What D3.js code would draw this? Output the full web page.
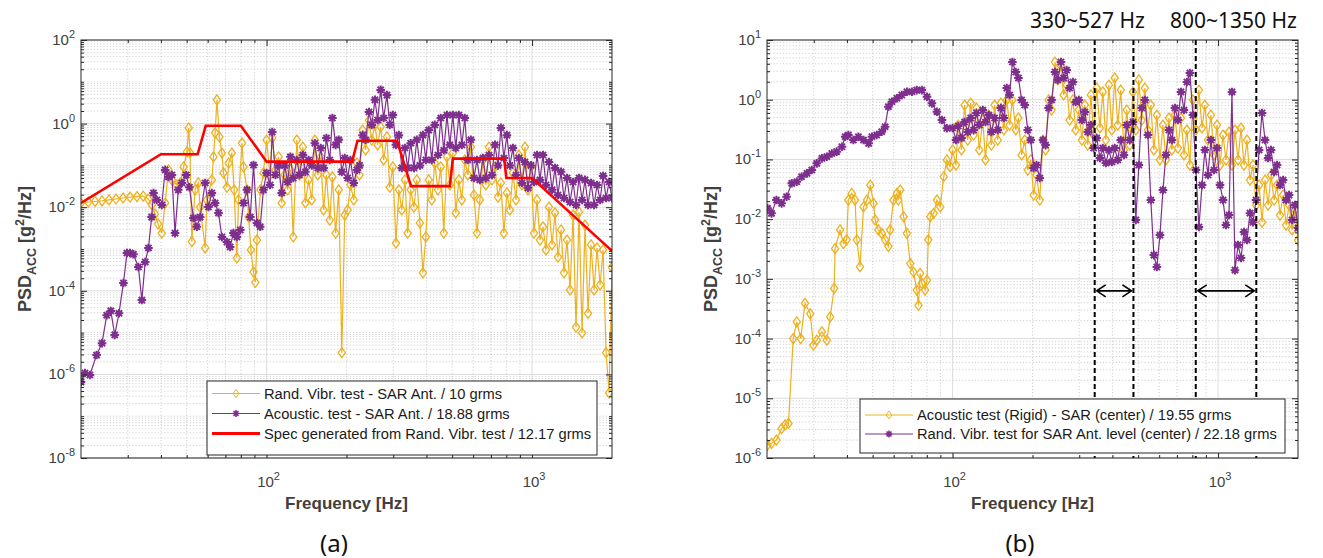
<!DOCTYPE html>
<html>
<head>
<meta charset="utf-8">
<script src="https://cdn.jsdelivr.net/npm/d3@7"></script>
<style>
  body { margin: 0; background: #fff; }
  svg text { font-family: "Liberation Sans", Arial, Helvetica, sans-serif; }
</style>
</head>
<body>
<svg id="chart" width="1323" height="558"></svg>
<script>
// Two PSD comparisons (log-log).
// Below ~100 Hz every curve is stored as [Hz, g^2/Hz] pairs; above 100 Hz the
// curves are stored as values on the shared frequency bins in freqGrid.

const freqGrid = [
  100,103,105,108,111,114,117,120,123,126,
  130,133,137,140,144,148,152,156,160,164,
  168,173,177,182,187,192,197,202,207,213,
  219,224,230,236,243,249,256,262,269,276,
  284,291,299,307,315,323,332,340,349,359,
  368,378,388,398,408,419,430,442,453,465,
  478,490,503,516,530,544,558,573,588,604,
  620,636,653,670,688,706,725,744,763,783,
  804,825,847,870,892,916,940,965,991,1017,
  1044,1071,1099,1128,1158,1189,1220,1252,1285,1319,
  1354,1390,1427,1464,1503,1543,1583,1625,1668,1712,
  1757,1804,1851,1900,1950,2000];

// ---- (a) ----
const randVibrLowA = [
  [20,0.0126],[21.3,0.0133],[22.6,0.0137],[24.0,0.0141],[25.5,0.0149],[27.1,0.0157],
  [28.8,0.0166],[30.6,0.0175],[32.5,0.018],[34.3,0.0185],[35.8,0.0157],[37.0,0.0113],
  [38.0,6.9e-3],[39.0,4.0e-3],[40.3,2.4e-3],[41.5,0.0126],[42.7,0.078],[44.0,0.045],
  [45.9,0.034],[47.3,0.038],[48.7,0.092],[50.1,0.21],[50.9,0.79],[51.5,0.198],
  [52.3,1.5e-3],[53.8,0.026],[55.3,0.038],[56.2,0.0101],[58.7,1.06e-3],[59.6,0.0149],
  [62.2,0.045],[63.1,0.159],[64.0,0.6],[65.0,3.7],[66.4,0.48],[67.9,0.198],
  [68.8,0.066],[70.9,0.030],[72.0,0.114],[74.0,0.198],[75.5,0.026],[77.3,6.1e-4],
  [78.4,0.0149],[80.8,0.343],[81.9,0.092],[84.4,0.026],[85.6,5.8e-3],[87.3,9.5e-4],
  [89.3,2.8e-4],[90.7,1.6e-4],[92.0,1.64e-3],[94.8,0.026],[97.3,0.066]];
const randVibrHighA = [
  0.405,0.059,0.453,0.078,0.159,0.0126,0.059,0.026,0.078,1.94e-3,
  0.405,0.059,0.275,0.0126,0.045,0.0149,0.405,0.059,0.159,8.6e-3,
  0.059,4.9e-3,0.053,2.4e-3,0.026,3.3e-6,6.5e-3,8.6e-3,0.034,0.0149,
  0.114,0.059,0.70,0.234,1.2,0.405,0.93,0.308,0.83,0.135,
  0.48,0.030,0.092,1.39e-3,0.026,8.6e-3,0.045,2.4e-3,0.026,0.0101,
  0.045,4.2e-3,2.7e-4,1.94e-3,0.045,0.0149,0.114,0.026,0.092,2.4e-3,
  0.159,0.034,0.198,7.3e-3,0.045,0.0149,0.135,0.059,0.275,0.0196,
  2.4e-3,0.0149,0.135,0.034,0.275,0.045,0.092,0.0175,0.038,2.4e-3,
  0.0219,8.6e-3,0.066,0.0149,0.177,0.034,0.275,0.026,0.092,2.4e-3,
  0.0149,1.64e-3,3.4e-3,9.5e-4,0.0101,1.25e-3,7.3e-3,6.4e-4,2.85e-3,2.7e-4,
  1.64e-3,1.05e-4,6.5e-3,1.36e-5,7.7e-3,9.8e-6,3.75e-3,2.9e-5,1.25e-3,1.05e-4,
  1.06e-3,1.38e-4,9.5e-4,3.3e-6,3.6e-7,3.7e-4];

const acousticLowA = [
  [20,6.6e-7],[20.7,1.08e-6],[21.6,9.7e-7],[22.9,2.9e-6],[24.0,5.6e-6],[25.0,2.6e-5],
  [25.9,3.3e-5],[26.8,8.8e-6],[27.8,2.9e-5],[28.9,1.54e-4],[29.8,8e-4],[30.6,8e-4],
  [31.5,7.5e-4],[32.9,3.7e-4],[33.9,6.0e-5],[34.9,4.9e-4],[35.9,1.06e-3],[36.9,5.8e-3],
  [37.5,0.0219],[38.6,0.0149],[40.3,0.0113],[41.5,0.078],[42.7,0.053],[44.0,0.059],
  [45.2,2.4e-3],[46.5,0.026],[48.0,0.038],[49.8,0.059],[51.2,0.030],[53.0,5.5e-3],
  [54.6,3.4e-3],[56.2,5.8e-3],[58.7,0.038],[60.4,0.0101],[62.2,0.0219],[64.0,0.0126],
  [65.9,7.3e-3],[67.9,1.94e-3],[70.9,1.47e-3],[72.9,1.12e-3],[75.0,2.4e-3],[77.3,1.94e-3],
  [79.6,2.85e-3],[81.9,0.0126],[84.4,0.026],[86.8,5.8e-3],[89.3,0.102],[92.0,4.2e-3],
  [94.6,3.4e-3],[97.3,0.026]];
const acousticHighA = [
  0.066,0.034,0.63,0.059,0.10,0.022,0.10,0.040,0.16,0.050,
  0.135,0.059,0.177,0.070,0.135,0.10,0.34,0.087,0.26,0.087,
  0.45,0.135,1.36,0.31,0.41,0.070,0.15,0.050,0.135,0.038,
  0.078,0.10,0.53,0.41,1.9,0.93,3.7,1.22,6.4,1.36,
  4.8,0.93,1.6,0.31,0.53,0.087,0.26,0.087,0.34,0.087,
  0.41,0.10,0.53,0.135,0.70,0.135,0.93,0.177,1.36,0.23,
  1.6,0.31,1.6,0.26,1.6,0.31,1.36,0.135,0.41,0.050,
  0.135,0.045,0.15,0.050,0.177,0.059,0.31,0.10,0.79,0.15,
  0.53,0.10,0.26,0.059,0.15,0.038,0.12,0.029,0.10,0.040,
  0.177,0.045,0.177,0.034,0.12,0.026,0.087,0.0196,0.070,0.0166,
  0.050,0.0133,0.040,0.0113,0.050,0.0149,0.045,0.0113,0.038,0.0113,
  0.034,0.0149,0.056,0.0166,0.040,0.0166];

const specA = [
  [20,0.0126],[40,0.185],[55,0.185],[59,0.89],[80,0.89],[100,0.123],[210,0.123],
  [220,0.39],[310,0.39],[350,0.032],[490,0.032],[503,0.145],[785,0.145],[800,0.05],
  [1000,0.05],[2000,9e-4]];

// ---- (b) ----
const acousticLowB = [
  [20.1,1.64e-6],[20.8,1.76e-6],[21.7,2.0e-6],[22.7,3.1e-6],[23.4,3.6e-6],[24.1,3.8e-6],
  [25.1,1.0e-4],[25.9,1.9e-4],[26.8,1.0e-4],[27.8,3.9e-4],[29.1,2.6e-4],[29.9,7.8e-5],
  [30.8,9.4e-5],[32.2,1.3e-4],[33.6,9.4e-5],[34.6,2.3e-4],[35.8,6.9e-4],[36.1,3.2e-3],
  [37.7,6.6e-3],[38.8,3.9e-3],[39.9,4.5e-3],[40.5,0.0209],[41.7,0.027],[42.9,0.0209],
  [43.6,4.5e-3],[44.8,1.6e-3],[46.2,0.016],[47.6,0.0209],[49.0,0.037],[50.4,0.0184],
  [51.1,9.7e-3],[52.5,6.6e-3],[54.1,5.8e-3],[55.7,4.5e-3],[57.3,3.5e-3],[58.2,6.6e-3],
  [59.9,0.0209],[61.7,0.027],[62.5,0.0209],[63.5,0.0307],[65.4,0.011],[67.3,5.8e-3],
  [69.3,1.8e-3],[71.3,1.3e-3],[73.3,6.5e-4],[74.4,3.6e-4],[75.5,1.24e-3],[76.6,8.4e-4],
  [78.8,6.5e-4],[80.1,9.5e-4],[81.0,4.5e-3],[82.4,0.011],[84.9,0.0125],[87.3,0.0209],
  [89.9,0.016],[92.6,0.0513],[95.2,0.098],[97.9,0.0755]];
const acousticHighB = [
  0.144,0.0805,0.377,0.144,0.815,0.211,0.88,0.256,0.726,0.144,
  0.457,0.098,0.554,0.174,0.815,0.211,0.88,0.311,0.99,0.377,
  0.99,0.311,0.494,0.119,0.211,0.0664,0.098,0.0253,0.0548,0.0209,
  0.211,0.144,0.99,0.672,4.28,2.14,3.67,1.2,1.76,0.457,
  0.99,0.311,0.672,0.211,0.815,0.174,1.2,0.256,1.57,0.336,
  1.35,0.211,1.76,0.311,2.31,0.377,1.45,0.144,0.672,0.174,
  1.35,0.311,2.14,0.457,1.57,0.311,0.815,0.144,0.554,0.098,
  0.377,0.098,0.494,0.144,0.554,0.155,0.494,0.119,0.311,0.0805,
  0.99,0.311,1.45,0.336,0.815,0.211,0.554,0.119,0.377,0.0805,
  0.256,0.098,0.288,0.0805,0.311,0.098,0.336,0.0805,0.211,0.0452,
  0.0805,0.0172,0.0372,8.9e-3,0.0452,0.0172,0.0548,0.0209,0.0372,0.0117,
  0.0253,7.96e-3,0.0172,6.6e-3,0.0142,4.47e-3];

const randVibrLowB = [
  [20.1,0.0152],[20.8,0.0125],[21.7,0.0209],[22.7,0.0184],[23.7,0.0237],[24.8,0.0398],
  [25.9,0.0423],[27.0,0.0513],[28.3,0.0585],[29.5,0.0664],[30.8,0.086],[32.2,0.104],
  [33.6,0.111],[35.1,0.126],[36.6,0.135],[38.3,0.163],[39.4,0.24],[40.5,0.256],
  [42.3,0.211],[44.2,0.24],[46.2,0.211],[48.3,0.186],[49.7,0.24],[51.8,0.256],
  [54.1,0.291],[55.7,0.353],[57.3,0.763],[59.1,0.926],[61.7,1.06],[64.4,1.2],
  [67.3,1.36],[70.3,1.36],[73.3,1.45],[76.6,1.45],[80.1,1.12],[83.6,0.87],
  [87.3,0.63],[91.2,0.457],[95.2,0.332]];
const randVibrHighB = [
  0.336,0.211,0.363,0.228,0.423,0.288,0.494,0.311,0.599,0.377,
  0.672,0.423,0.554,0.288,0.494,0.311,0.726,0.494,1.57,1.2,
  4.28,2.91,2.31,0.99,0.815,0.311,0.211,0.0718,0.0805,0.0488,
  0.211,0.174,0.726,0.99,2.91,2.14,4.28,2.31,3.14,1.57,
  1.98,0.915,0.99,0.457,0.622,0.288,0.377,0.155,0.228,0.106,
  0.155,0.087,0.144,0.0904,0.155,0.098,0.211,0.119,0.377,0.211,
  0.423,9.7e-3,0.0805,0.726,0.99,0.256,0.0209,2.5e-3,1.58e-3,5.4e-3,
  0.0307,0.119,0.311,0.211,0.726,0.457,1.35,0.672,1.98,2.8,
  0.554,0.0664,7.4e-3,0.0372,0.144,0.0548,0.211,0.0664,0.155,0.0372,
  0.0209,7.96e-3,0.0117,1.35,1.4e-3,3.7e-3,2.23e-3,6.1e-3,4.47e-3,0.0126,
  8.9e-3,0.0209,0.144,0.599,0.211,0.106,0.144,0.0615,0.0805,0.0372,
  0.0452,0.0209,0.0253,9.7e-3,0.0172,7.1e-3];

const bandEdgesB = [343, 480, 824, 1393];   // dashed markers, Hz
const arrowLevelB = 6.3e-4;                 // height of the span arrows
const bandLabels = ["330~527 Hz", "800~1350 Hz"];

const legendA = ["Rand. Vibr. test - SAR Ant. / 10 grms",
                 "Acoustic. test - SAR Ant. / 18.88 grms",
                 "Spec generated from Rand. Vibr. test / 12.17 grms"];
const legendB = ["Acoustic test (Rigid) - SAR (center) / 19.55 grms",
                 "Rand. Vibr. test for SAR Ant. level (center) / 22.18 grms"];

const yTicksA = [1e2, 1e0, 1e-2, 1e-4, 1e-6, 1e-8];
const yTicksB = [1e1, 1e0, 1e-1, 1e-2, 1e-3, 1e-4, 1e-5, 1e-6];

// -------------------------------------------------------------------------
const svg = d3.select("#chart");
const YEL = "#EDB120", PUR = "#7E2F8E", RED = "#FF0000", INK = "#262626";
const diamond = "M0,-5L3.6,0L0,5L-3.6,0Z";
const star = "M-4.3,0H4.3M0,-4.3V4.3M-3.1,-3.1L3.1,3.1M-3.1,3.1L3.1,-3.1";
const onGrid = (low, high) => low.concat(high.map((v, i) => [freqGrid[i], v]));

function powLabel(g, x, y, v, anchor) {
  const e = Math.round(Math.log10(v));
  const t = g.append("text").attr("x", x).attr("y", y).attr("text-anchor", anchor)
    .attr("fill", "#404040").attr("font-size", 15);
  t.append("tspan").text("10");
  t.append("tspan").attr("dy", -7).attr("font-size", 11).text(String(e));
}

function panel(cfg) {
  const x = d3.scaleLog().domain([20, 2000]).range([cfg.left, cfg.right]);
  const y = d3.scaleLog().domain(cfg.yDomain).range([cfg.bottom, cfg.top]);
  const g = svg.append("g");
  const w = cfg.right - cfg.left, h = cfg.bottom - cfg.top;
  const id = "clip" + cfg.name;
  svg.append("clipPath").attr("id", id).append("rect")
    .attr("x", cfg.left).attr("y", cfg.top).attr("width", w).attr("height", h);

  const isMajorY = v => cfg.yTicks.some(t => Math.abs(Math.log10(t) - Math.log10(v)) < 1e-6);
  const xt = x.ticks(), yt = y.ticks(60);
  const xMaj = xt.filter(v => Math.abs(Math.log10(v) % 1) < 1e-6 && v > 20 && v < 2000);
  const xMin = xt.filter(v => !xMaj.includes(v) && v > 20 && v < 2000);
  const yMaj = yt.filter(isMajorY), yMin = yt.filter(v => !isMajorY(v));

  // grid
  const grid = g.append("g");
  grid.selectAll(".mx").data(xMin).join("line").attr("x1", x).attr("x2", x)
    .attr("y1", cfg.top).attr("y2", cfg.bottom);
  grid.selectAll(".my").data(yMin).join("line").attr("y1", y).attr("y2", y)
    .attr("x1", cfg.left).attr("x2", cfg.right);
  grid.selectAll("line").attr("stroke", "#c4c4c4").attr("stroke-width", 0.8)
    .attr("stroke-dasharray", "1.2,2");
  const major = g.append("g").attr("stroke", "#dcdcdc").attr("stroke-width", 1);
  major.selectAll(".Mx").data(xMaj).join("line").attr("x1", x).attr("x2", x)
    .attr("y1", cfg.top).attr("y2", cfg.bottom);
  major.selectAll(".My").data(yMaj).join("line").attr("y1", y).attr("y2", y)
    .attr("x1", cfg.left).attr("x2", cfg.right);

  // series
  const plot = g.append("g").attr("clip-path", `url(#${id})`);
  const line = d3.line().x(d => x(d[0])).y(d => y(d[1]));
  cfg.series.forEach(s => {
    plot.append("path").datum(s.data).attr("d", line).attr("fill", "none")
      .attr("stroke", s.color).attr("stroke-width", s.width || 1.2);
    if (s.marker) {
      plot.append("g").selectAll("path").data(s.data).join("path")
        .attr("transform", d => `translate(${x(d[0])},${y(d[1])})`)
        .attr("d", s.marker).attr("fill", "none").attr("stroke", s.color)
        .attr("stroke-width", s.marker === star ? 2 : 1.3);
    }
  });
  if (cfg.extra) cfg.extra(plot, x, y);

  // ticks on all four sides, pointing in
  const ax = (gen, scale, vals, len, tr) => g.append("g").attr("transform", tr)
    .call(gen(scale).tickValues(vals).tickSize(-len).tickFormat("").tickSizeOuter(0))
    .call(s => { s.select(".domain").remove(); s.selectAll("line").attr("stroke", INK); });
  ax(d3.axisBottom, x, xMaj, 6, `translate(0,${cfg.bottom})`);
  ax(d3.axisBottom, x, xMin, 3, `translate(0,${cfg.bottom})`);
  ax(d3.axisTop, x, xMaj, 6, `translate(0,${cfg.top})`);
  ax(d3.axisTop, x, xMin, 3, `translate(0,${cfg.top})`);
  ax(d3.axisLeft, y, yMaj, 6, `translate(${cfg.left},0)`);
  ax(d3.axisLeft, y, yMin, 3, `translate(${cfg.left},0)`);
  ax(d3.axisRight, y, yMaj, 6, `translate(${cfg.right},0)`);
  ax(d3.axisRight, y, yMin, 3, `translate(${cfg.right},0)`);
  g.append("rect").attr("x", cfg.left).attr("y", cfg.top).attr("width", w).attr("height", h)
    .attr("fill", "none").attr("stroke", INK).attr("stroke-width", 1);

  xMaj.forEach(v => powLabel(g, x(v) + 2, cfg.bottom + 29, v, "middle"));
  cfg.yTicks.forEach(v => powLabel(g, cfg.left - 6, y(v) + 5, v, "end"));

  g.append("text").attr("x", (cfg.left + cfg.right) / 2).attr("y", cfg.bottom + 51)
    .attr("text-anchor", "middle").attr("font-size", 17).attr("font-weight", "bold")
    .attr("fill", "#404040").text("Frequency [Hz]");
  const yl = g.append("text")
    .attr("transform", `translate(${cfg.left - 50},${(cfg.top + cfg.bottom) / 2}) rotate(-90)`)
    .attr("text-anchor", "middle").attr("font-size", 18).attr("font-weight", "bold")
    .attr("fill", "#404040");
  yl.append("tspan").text("PSD");
  yl.append("tspan").attr("dy", 5).attr("font-size", 12.5).text("ACC");
  yl.append("tspan").attr("dy", -5).text(" [g");
  yl.append("tspan").attr("dy", -7).attr("font-size", 12.5).text("2");
  yl.append("tspan").attr("dy", 7).text("/Hz]");

  // legend
  const L = cfg.legend;
  const lg = g.append("g");
  lg.append("rect").attr("x", L.x).attr("y", L.y).attr("width", L.w).attr("height", L.h)
    .attr("fill", "#fff").attr("stroke", INK).attr("stroke-width", 1);
  L.labels.forEach((txt, i) => {
    const s = cfg.series[i], cy = L.y + L.first + i * L.step;
    lg.append("line").attr("x1", L.x + 5).attr("x2", L.x + 53).attr("y1", cy).attr("y2", cy)
      .attr("stroke", s.color).attr("stroke-width", s.width ? 3 : 1);
    if (s.marker) lg.append("path")
      .attr("transform", `translate(${L.x + 29},${cy}) scale(0.8)`)
      .attr("d", s.marker).attr("fill", "none").attr("stroke", s.color)
      .attr("stroke-width", s.marker === star ? 2 : 1.2);
    lg.append("text").attr("x", L.x + 57).attr("y", cy + 5).attr("font-size", 14.7)
      .attr("fill", "#1a1a1a").text(txt);
  });
}

panel({
  name: "A", left: 81, right: 612, top: 40, bottom: 458, yDomain: [1e-8, 1e2], yTicks: yTicksA,
  series: [
    { data: onGrid(randVibrLowA, randVibrHighA), color: YEL, marker: diamond },
    { data: onGrid(acousticLowA, acousticHighA), color: PUR, marker: star },
    { data: specA, color: RED, width: 2.6 }],
  legend: { x: 207, y: 381, w: 390, h: 74, first: 12.5, step: 20, labels: legendA }
});

panel({
  name: "B", left: 767, right: 1298, top: 40, bottom: 458, yDomain: [1e-6, 1e1], yTicks: yTicksB,
  series: [
    { data: onGrid(acousticLowB, acousticHighB), color: YEL, marker: diamond },
    { data: onGrid(randVibrLowB, randVibrHighB), color: PUR, marker: star }],
  legend: { x: 860, y: 399, w: 425, h: 54, first: 16, step: 19, labels: legendB },
  extra: (plot, x, y) => {
    plot.selectAll(".edge").data(bandEdgesB).join("line")
      .attr("x1", x).attr("x2", x).attr("y1", 40).attr("y2", 458)
      .attr("stroke", "#000").attr("stroke-width", 2).attr("stroke-dasharray", "5,3");
    const ay = y(arrowLevelB);
    [[0, 1], [2, 3]].forEach(([a, b]) => {
      const x1 = x(bandEdgesB[a]) + 2, x2 = x(bandEdgesB[b]) - 2;
      plot.append("path")
        .attr("d", `M${x1},${ay}H${x2}M${x1 + 9},${ay - 6}L${x1},${ay}L${x1 + 9},${ay + 6}` +
                   `M${x2 - 9},${ay - 6}L${x2},${ay}L${x2 - 9},${ay + 6}`)
        .attr("fill", "none").attr("stroke", "#000").attr("stroke-width", 1.6);
    });
  }
});

// band annotation above (b), and sub-figure captions
svg.append("text").attr("x", 1030).attr("y", 28).attr("font-size", 21)
  .style("font-family", "'Noto Sans', 'Open Sans', sans-serif").attr("fill", "#111")
  .text(bandLabels[0]);
svg.append("text").attr("x", 1170).attr("y", 28).attr("font-size", 21)
  .style("font-family", "'Noto Sans', 'Open Sans', sans-serif").attr("fill", "#111")
  .text(bandLabels[1]);
[["(a)", 334], ["(b)", 1020]].forEach(([t, cx]) =>
  svg.append("text").attr("x", cx).attr("y", 552).attr("text-anchor", "middle")
    .attr("font-size", 24).style("font-family", "'Noto Sans', 'Open Sans', sans-serif")
    .attr("fill", "#111").text(t));
</script>
</body>
</html>
